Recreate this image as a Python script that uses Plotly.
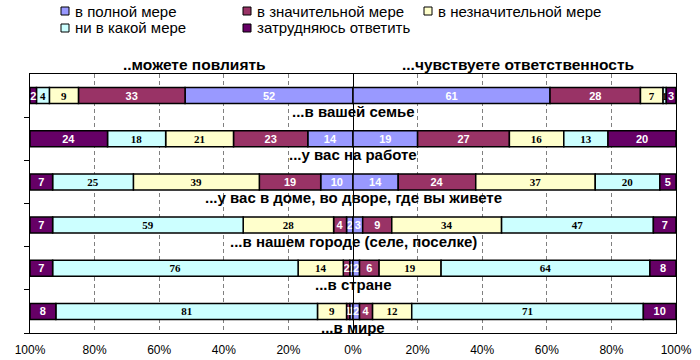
import plotly.graph_objects as go

categories = [
    "...в вашей семье",
    "...у вас на работе",
    "...у вас в доме, во дворе, где вы живете",
    "...в нашем городе (селе, поселке)",
    "...в стране",
    "...в мире",
]
series_names = ["в полной мере", "в значительной мере", "в незначительной мере",
                "ни в какой мере", "затрудняюсь ответить"]
series_colors = ["#9999FF", "#993366", "#FFFFCC", "#CCFFFF", "#660066"]
text_colors = ["white", "white", "black", "black", "white"]

# "...можете повлиять" (left side)
infl_full = [52, 14, 10, 2, 1, 1]
infl_sig = [33, 23, 19, 4, 2, 1]
infl_insig = [9, 21, 39, 28, 14, 9]
infl_none = [4, 18, 25, 59, 76, 81]
infl_dk = [2, 24, 7, 7, 7, 8]

# "...чувствуете ответственность" (right side)
resp_full = [61, 19, 14, 3, 2, 2]
resp_sig = [28, 27, 24, 9, 6, 4]
resp_insig = [7, 16, 37, 34, 19, 12]
resp_none = [1, 13, 20, 47, 64, 71]
resp_dk = [3, 20, 5, 7, 8, 10]

x_tickvals = [-100, -80, -60, -40, -20, 0, 20, 40, 60, 80, 100]
x_ticktext = ["100%", "80%", "60%", "40%", "20%", "0%", "20%", "40%", "60%", "80%", "100%"]

left = [infl_full, infl_sig, infl_insig, infl_none, infl_dk]
right = [resp_full, resp_sig, resp_insig, resp_none, resp_dk]


def normalize(groups):
    n = len(groups[0])
    totals = [sum(g[i] for g in groups) for i in range(n)]
    return [[g[i] / totals[i] * 100 for i in range(n)] for g in groups]


left_n = normalize(left)
right_n = normalize(right)
ypos = list(range(len(categories)))

SANS = "Liberation Sans, Arial, sans-serif"
SERIF = "Liberation Serif, Times New Roman, serif"

fig = go.Figure()
for k, name in enumerate(series_names):
    fam = SANS if text_colors[k] == "white" else SERIF
    for vals, raw, sign in ((left_n[k], left[k], -1), (right_n[k], right[k], 1)):
        fig.add_trace(go.Bar(
            y=ypos, x=[sign * v for v in vals], orientation="h",
            name=name, showlegend=False,
            marker=dict(color=series_colors[k], line=dict(color="black", width=1.5)),
            width=0.37,
            text=[str(v) for v in raw],
            textposition="inside", insidetextanchor="middle",
            constraintext="none", textangle=0,
            textfont=dict(family=fam, size=11, color=text_colors[k], weight="bold"),
            hoverinfo="skip",
        ))

annotations = []
for i, cat in enumerate(categories):
    annotations.append(dict(x=0, y=i + 0.37, xref="x", yref="y", text=cat, showarrow=False,
                            font=dict(family=SANS, size=15, color="black", weight="bold"),
                            xanchor="center", yanchor="middle"))

annotations.append(dict(x=(194 - 30) / 646, y=1.035, xref="paper", yref="paper",
                        text="..можете повлиять",
                        showarrow=False, xanchor="center", yanchor="middle",
                        font=dict(family=SANS, size=15.5, color="black", weight="bold")))
annotations.append(dict(x=(400 - 30) / 646, y=1.035, xref="paper", yref="paper",
                        text="...чувствуете ответственность",
                        showarrow=False, xanchor="left", yanchor="middle",
                        font=dict(family=SANS, size=15.5, color="black", weight="bold")))

# legend (manual, 3 columns x 2 rows)
shapes = []
col_px = [61, 243, 424]
row_px = [11, 28]
W, H, T, B, L = 700, 360, 74, 27, 30
PW, PH = W - L - 24, H - T - B
for k, name in enumerate(series_names):
    cx = col_px[k % 3]
    cy = row_px[k // 3]
    shapes.append(dict(type="rect", xref="paper", yref="paper",
                       x0=(cx - L) / PW, x1=(cx + 8 - L) / PW,
                       y0=(H - B - (cy + 4)) / PH, y1=(H - B - (cy - 4)) / PH,
                       fillcolor=series_colors[k], line=dict(color="black", width=1)))
    annotations.append(dict(x=(cx + 12 - L) / PW, y=(H - B - cy) / PH, xref="paper", yref="paper",
                            text=name, showarrow=False, xanchor="left", yanchor="middle",
                            font=dict(family=SANS, size=15, color="black")))

fig.update_layout(
    width=W, height=H,
    margin=dict(l=L, r=24, t=T, b=B, pad=0, autoexpand=False),
    barmode="relative",
    plot_bgcolor="white", paper_bgcolor="white",
    showlegend=False,
    annotations=annotations,
    shapes=shapes,
    font=dict(family=SANS, size=12, color="black"),
    xaxis=dict(range=[-100, 100], tickvals=x_tickvals, ticktext=x_ticktext,
               showgrid=True, gridcolor="#808080", gridwidth=1, griddash="4px,3px",
               zeroline=True, zerolinecolor="black", zerolinewidth=1,
               showline=True, linecolor="black", linewidth=1, mirror=True,
               ticks="", tickfont=dict(family=SANS, size=12, color="black"),
               ticklabelstandoff=6, fixedrange=True, automargin=False),
    yaxis=dict(range=[len(categories) - 0.5, -0.5], tickvals=[i + 0.5 for i in ypos],
               showticklabels=False, ticks="outside", ticklen=5, tickcolor="black",
               showgrid=False, zeroline=False, automargin=False,
               showline=True, linecolor="black", linewidth=1, mirror=True, fixedrange=True),
)

fig.write_html("out.html", config={"displayModeBar": False},
               post_script="document.body.style.margin='0';document.body.style.overflow='hidden';")
